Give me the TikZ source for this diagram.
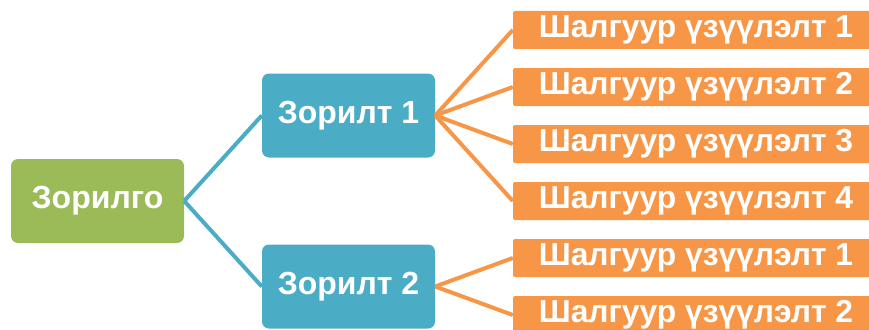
\documentclass[tikz,border=0pt]{standalone}
\usepackage{fontspec}
\setmainfont{Liberation Sans}
\definecolor{goalgreen}{HTML}{9BBB59}
\definecolor{aimblue}{HTML}{4BACC6}
\definecolor{critorange}{HTML}{F79646}
\begin{document}
\begin{tikzpicture}[x=1pt,y=-1pt,
    goalbox/.style={fill=goalgreen,rounded corners=7pt,minimum width=173pt,minimum height=84pt,inner sep=0pt,text=white,font=\fontsize{32}{36}\selectfont\bfseries},
    aimbox/.style={goalbox,fill=aimblue},
    critbox/.style={fill=critorange,rounded corners=2pt,minimum width=366pt,minimum height=38pt,inner sep=0pt,text=white,font=\fontsize{31.8}{34}\selectfont\bfseries},
    bluelink/.style={draw=aimblue,line width=4pt},
    orangelink/.style={draw=critorange,line width=4pt}]
      \useasboundingbox (0,0) rectangle (869,329);
      \node[goalbox] (zorilgo) at (97.5,201) {Зорилго};
      \node[aimbox] (zorilt1) at (348.5,115.5) {Зорилт 1};
      \node[aimbox] (zorilt2) at (348.5,286.5) {Зорилт 2};
      \foreach \k/\y/\n in {1/30/1,2/87/2,3/144/3,4/201/4,5/258/1,6/315/2}
        \node[critbox] (shalguur\k) at (696,\y) {Шалгуур үзүүлэлт \n};
      \draw[bluelink] (zorilgo.east) -- (zorilt1.west);
      \draw[bluelink] (zorilgo.east) -- (zorilt2.west);
      \foreach \k in {1,...,4}
        \draw[orangelink] (zorilt1.east) -- (shalguur\k.west);
      \foreach \k in {5,6}
        \draw[orangelink] (zorilt2.east) -- (shalguur\k.west);
    \end{tikzpicture}
\end{document}
